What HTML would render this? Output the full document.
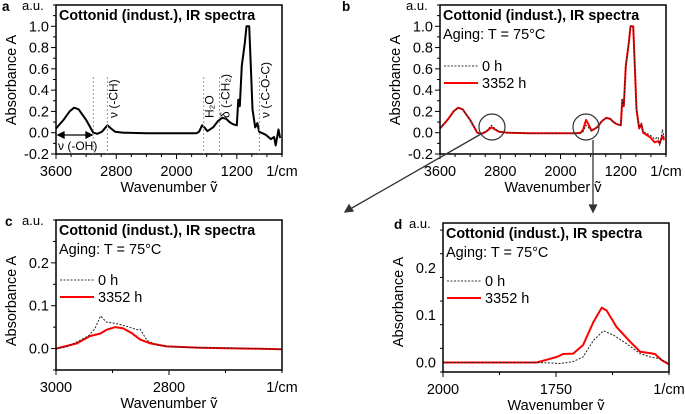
<!DOCTYPE html>
<html><head><meta charset="utf-8">
<style>
body{margin:0;background:#fff;}
svg{display:block;font-family:"Liberation Sans",Arial,sans-serif;}
</style></head>
<body>
<svg id="fig" width="685" height="414" viewBox="0 0 685 414"></svg>
<script>
// ===== Data =====
const fullWn = [3600,3500,3420,3360,3300,3200,3105,3050,2990,2918,2870,2816,2700,2400,2000,1800,1732,1700,1660,1630,1590,1515,1450,1393,1340,1296,1252,1200,1180,1160,1133,1093,1071,1036,1014,992,956,926,904,815,749,705,683,647,625];
const full0h = [0.04,0.12,0.2,0.235,0.22,0.12,0.0,-0.01,0.01,0.07,0.04,0.01,0.0,-0.005,-0.005,-0.005,-0.005,0.01,0.07,0.05,0.015,0.05,0.11,0.14,0.13,0.10,0.08,0.07,0.31,0.25,0.63,0.85,1.0,1.0,0.63,0.22,0.05,0.09,0.01,-0.02,-0.06,-0.04,-0.12,0.03,-0.05];
const full3352h = [0.04,0.12,0.2,0.235,0.22,0.12,0.0,-0.01,0.01,0.05,0.03,0.01,0.0,-0.005,-0.005,-0.005,0.0,0.03,0.12,0.08,0.02,0.05,0.11,0.14,0.13,0.10,0.08,0.07,0.31,0.25,0.63,0.85,1.0,1.0,0.63,0.22,0.04,0.08,0.0,-0.04,-0.09,-0.08,-0.1,-0.03,-0.07];
const fullTicks = [3600,2800,2000,1200];
const fullYTicks = [-0.2,0.0,0.2,0.4,0.6,0.8,1.0];

const chWn = [3000,2981,2958,2943,2931,2921,2911,2892,2875,2857,2851,2839,2821,2798,2745,2685,2600];
const ch0h = [0,0.004,0.019,0.029,0.047,0.076,0.062,0.058,0.052,0.044,0.045,0.019,0.008,0.004,0.002,0.0015,-0.002];
const chRedWn = [3000,2963,2940,2922,2910,2895,2881,2866,2851,2833,2804,2745,2600];
const ch3352h = [0,0.012,0.029,0.035,0.044,0.05,0.047,0.036,0.021,0.012,0.005,0.002,-0.0015];
const chTicks = [3000,2800];
const chYTicks = [0.0,0.1,0.2];

const coWn0 = [2000,1793,1760,1741,1712,1690,1667,1645,1623,1594,1564,1542,1520,1500];
const co0h = [0,0,-0.001,-0.002,0.002,0.012,0.047,0.067,0.058,0.04,0.019,0.012,0.008,-0.002];
const coWnR = [2000,1793,1763,1748,1734,1712,1690,1667,1649,1638,1616,1586,1564,1542,1531,1516,1500];
const co3352h = [0,0,0.008,0.012,0.018,0.019,0.037,0.086,0.116,0.11,0.075,0.044,0.023,0.02,0.018,0.005,-0.004];
const coTicks = [2000,1750];
const coYTicks = [0.0,0.1,0.2];

// ===== Drawing =====
const NS="http://www.w3.org/2000/svg";
const svg=document.getElementById('fig');
function mk(tag,attrs,parent){const e=document.createElementNS(NS,tag);for(const k in attrs)e.setAttribute(k,attrs[k]);(parent||svg).appendChild(e);return e;}
function txt(s,attrs,parent){const e=mk('text',attrs,parent);e.textContent=s;return e;}

function panel(p){
  const g=mk('g',{});
  
  
  const xs=w=>p.L+(p.w0-w)*(p.R-p.L)/(p.w0-p.w1);
  const ys=v=>p.B-(v-p.v0)*(p.B-p.T)/(p.v1-p.v0);
  p.series.forEach(s=>{
    const d=s.x.map((w,i)=>(i?'L':'M')+xs(w).toFixed(1)+','+ys(s.y[i]).toFixed(1)).join(' ');
    const path=mk('path',{d:d,fill:'none',stroke:s.color,'stroke-width':s.width,'stroke-dasharray':s.dash||'none','stroke-linejoin':'round'},g);
    
    
  });
  const fr=mk('rect',{x:p.L,y:p.T,width:p.R-p.L,height:p.B-p.T,fill:'none',stroke:'#000','stroke-width':1.5},g);
  
  
  const step=p.minorX;
  for(let w=p.w0;w>=p.w1-1e-6;w-=step){
    const x=xs(w);const major=p.xTicks.some(t=>Math.abs(t-w)<1e-6);
    mk('line',{x1:x,x2:x,y1:p.B,y2:p.B+(major?5:3),stroke:'#000','stroke-width':1},g);
  }
  p.xTicks.forEach(t=>{
    const l=txt(String(t),{x:xs(t),y:p.B+22,'font-size':14.5,'text-anchor':'middle'},g);
    
    
  });
  const u=txt('1/cm',{x:p.R,y:p.B+22,'font-size':14.5,'text-anchor':'middle'},g);
  
  
  for(let v=p.v0;v<=p.v1+1e-6;v+=p.minorY){
    const y=ys(v);const major=p.yTicks.some(t=>Math.abs(t-v)<1e-6);
    mk('line',{x1:p.L,x2:p.L-(major?5:3),y1:y,y2:y,stroke:'#000','stroke-width':1},g);
  }
  p.yTicks.forEach(t=>{
    const l=txt(t.toFixed(1),{x:p.L-7,y:ys(t)+5,'font-size':14.5,'text-anchor':'end'},g);
    
    
  });
  const pl=txt(p.id,{x:p.L-p.letterDx,y:p.T+6,'font-size':13.5,'font-weight':'bold'},g);
  
  
  const au=txt('a.u.',{x:p.L-34,y:p.T+5,'font-size':13},g);
  
  
  const yt=txt('Absorbance A',{x:0,y:0,'font-size':14.5,'text-anchor':'middle',transform:`translate(${p.L-40},${p.yTitleY}) rotate(-90)`},g);
  
  
  const xt=txt('Wavenumber ṽ',{x:(p.L+p.R)/2,y:p.B+38,'font-size':14.5,'text-anchor':'middle'},g);
  
  
  const tt=txt('Cottonid (indust.), IR spectra',{x:p.L+3,y:p.T+15,'font-size':14.3,'font-weight':'bold'},g);
  
  
  if(p.legend){
    const ag=txt('Aging: T = 75°C',{x:p.L+3,y:p.T+34,'font-size':14.5},g);
    
    
    const ly=p.T+p.legendDy;
    const l1=mk('line',{x1:p.L+4,x2:p.L+38,y1:ly,y2:ly,stroke:'#333','stroke-width':1,'stroke-dasharray':'2,1.5'},g);
    
    
    const t1=txt('0 h',{x:p.L+42,y:ly+5,'font-size':14.5},g);
    
    
    const l2=mk('line',{x1:p.L+4,x2:p.L+38,y1:ly+17,y2:ly+17,stroke:'#f00','stroke-width':2},g);
    
    
    const t2=txt('3352 h',{x:p.L+42,y:ly+22,'font-size':14.5},g);
    
    
  }
  return {xs,ys,g};
}

const pa=panel({id:'a',L:56,R:282,T:5,B:154,w0:3600,w1:600,v0:-0.2,v1:1.2,xTicks:fullTicks,yTicks:fullYTicks,minorX:200,minorY:0.1,letterDx:54,yTitleY:80,
  series:[{x:fullWn,y:full0h,color:'#000',width:2,name:'spectrum-line'}]});
const pb=panel({id:'b',L:440,R:666,T:5,B:154,w0:3600,w1:600,v0:-0.2,v1:1.2,xTicks:fullTicks,yTicks:fullYTicks,minorX:200,minorY:0.1,letterDx:98,yTitleY:80,legend:true,legendDy:61,
  series:[{x:fullWn,y:full3352h,color:'#f00',width:2,name:'series-3352h'},{x:fullWn,y:full0h,color:'#222',width:1,dash:'2,1.5',name:'series-0h'}]});
const pc=panel({id:'c',L:56,R:282,T:220,B:370,w0:3000,w1:2600,v0:-0.05,v1:0.3,xTicks:chTicks,yTicks:chYTicks,minorX:100,minorY:0.05,letterDx:51,yTitleY:301,legend:true,legendDy:60,
  series:[{x:chRedWn,y:ch3352h,color:'#f00',width:2,name:'series-3352h'},{x:chWn,y:ch0h,color:'#222',width:1,dash:'2,1.5',name:'series-0h'}]});
const pd=panel({id:'d',L:443,R:669,T:223,B:372,w0:2000,w1:1500,v0:-0.02,v1:0.295,xTicks:coTicks,yTicks:coYTicks,minorX:125,minorY:0.05,letterDx:49,yTitleY:302,legend:true,legendDy:58,
  series:[{x:coWnR,y:co3352h,color:'#f00',width:2,name:'series-3352h'},{x:coWn0,y:co0h,color:'#222',width:1,dash:'2,1.5',name:'series-0h'}]});

const ann=[{w:3105,label:''},{w:2918,label:'ν (-CH)'},{w:1640,label:'H₂O'},{w:1430,label:'δ (-CH₂)'},{w:900,label:'ν (-C-O-C)'}];
ann.forEach(a=>{
  const x=pa.xs(a.w);
  const l=mk('line',{x1:x,x2:x,y1:77,y2:154,stroke:'#999','stroke-width':1,'stroke-dasharray':'2,2'});
  
  
  if(a.label){
    const t=txt(a.label,{x:0,y:0,'font-size':12,transform:`translate(${x+10},${118}) rotate(-90)`});
    
    
  }
});
const oh=mk('path',{d:'M58,135 L92,135 M58,135 l6,-3 l0,6 z M92,135 l-6,-3 l0,6 z',stroke:'#000','stroke-width':1.3,fill:'#000'});


const oht=txt('ν (-OH)',{x:58,y:150,'font-size':12});



const c1=mk('circle',{cx:pb.xs(2910),cy:127,r:13,fill:'none',stroke:'#333','stroke-width':1.2});


const c2=mk('circle',{cx:pb.xs(1662),cy:127,r:13,fill:'none',stroke:'#333','stroke-width':1.2});


const a1=mk('path',{d:'M481,134 L345,212 M345,212 l4,-7 l4,6 z',stroke:'#333','stroke-width':1.3,fill:'#333'});


const a2=mk('path',{d:'M593,140 L593,212 M593,212 l-3.5,-7 l7,0 z',stroke:'#333','stroke-width':1.3,fill:'#333'});


</script>
</body></html>
